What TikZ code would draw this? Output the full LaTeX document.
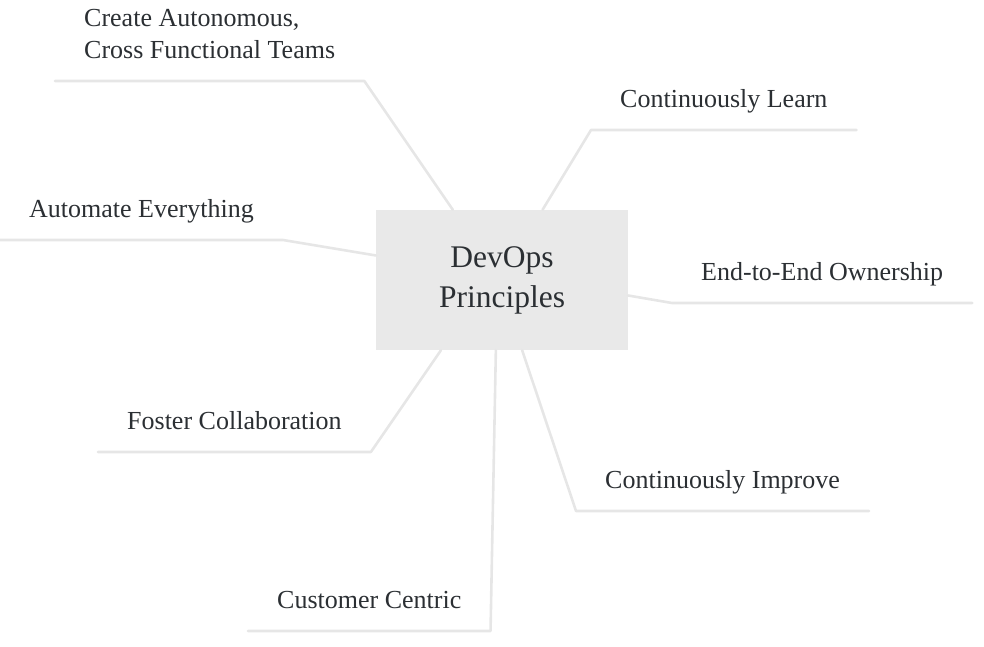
\documentclass[tikz,border=0pt]{standalone}
\usepackage{fontspec}
\setmainfont{Liberation Serif}
\usetikzlibrary{calc, positioning}
\definecolor{rootfill}{HTML}{E9E9E9}
\definecolor{branchgray}{HTML}{E6E6E6}
\definecolor{inkgray}{HTML}{2B2F33}

\begin{document}
\begin{tikzpicture}[x=1pt,y=-1pt,
 root/.style = {fill=rootfill, draw=none, minimum width=252pt, minimum height=140pt, align=center, text=inkgray, font=\fontsize{31.5}{40}\selectfont},
 topic/.style = {draw=none, inner xsep=29pt, inner ysep=0pt, text depth=22pt, align=left, anchor=south west, text=inkgray, font=\fontsize{26}{32.6}\selectfont},
 branch/.style = {draw=branchgray, line width=2.6pt, line join=round, line cap=round},
]
\useasboundingbox (0,0) rectangle (984,646);

\node (dev)[root] at (502,280) {DevOps\\Principles};

\node (t1)[topic] at (55,81)   {Create Autonomous,\\Cross Functional Teams};
\node (t2)[topic] at (591,130) {Continuously Learn};
\node (t3)[topic] at (0,240)   {Automate Everything};
\node (t4)[topic] at (672,303) {End-to-End Ownership};
\node (t5)[topic] at (98,452)  {Foster Collaboration};
\node (t6)[topic] at (248,631) {Customer Centric};
\node (t7)[topic] at (576,511) {Continuously Improve};

\draw[branch] (dev.125.5) -- (t1.south east) -- (t1.south west);
\draw[branch] (dev.60.9)  -- (t2.south west) -- (t2.south east);
\draw[branch] (dev.169.7) -- (t3.south east) -- (t3.south west);
\draw[branch] (dev.-7.2)  -- (t4.south west) -- (t4.south east);
\draw[branch] (dev.229.9) -- (t5.south east) -- (t5.south west);
\draw[branch] (dev.265.1) -- (t6.south east) -- (t6.south west);
\draw[branch] (dev.286.7) -- (t7.south west) -- (t7.south east);
\end{tikzpicture}
\end{document}
